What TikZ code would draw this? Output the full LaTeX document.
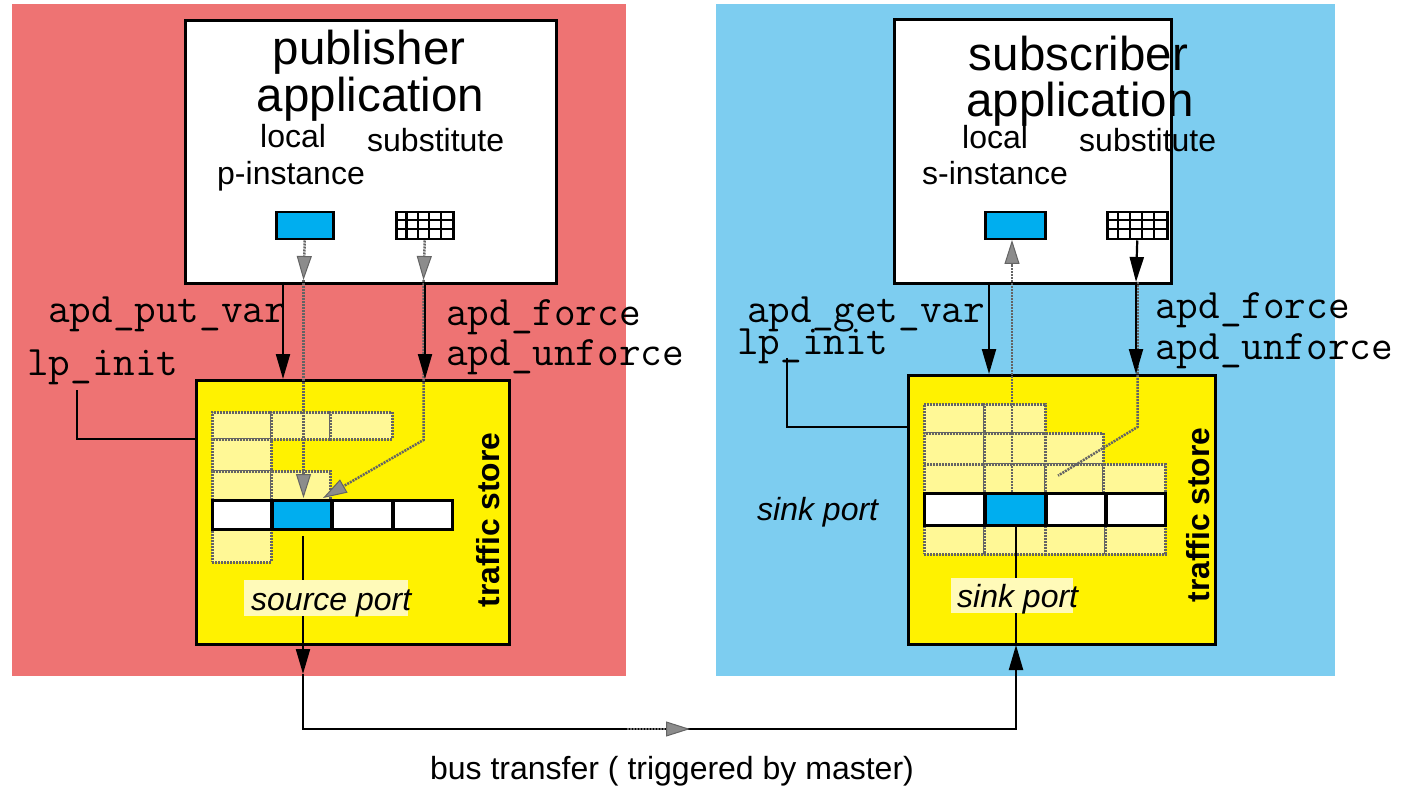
\documentclass[tikz,border=0pt]{standalone}
\usepackage{fontspec}
\setmainfont{Liberation Sans}
\usetikzlibrary{arrows.meta}
\definecolor{redbg}{RGB}{238,115,115}
\definecolor{bluebg}{RGB}{125,205,240}
\definecolor{tsyellow}{RGB}{255,242,0}
\definecolor{cellyellow}{RGB}{255,248,150}
\definecolor{lblyellow}{RGB}{255,250,185}
\definecolor{instblue}{RGB}{0,174,239}
\definecolor{dotgray}{RGB}{100,100,100}
\definecolor{tipgray}{RGB}{140,140,140}
\newcommand\rectnode[6]{\node[#2, minimum width={#5-#3}, minimum height={#6-#4}] (#1) at (#3,#4) {};}
\tikzset{
  panel/.style={draw=none, inner sep=0, anchor=north west},
  appbox/.style={draw=black, fill=white, line width=3pt, inner sep=0, anchor=north west},
  tsbox/.style={draw=black, fill=tsyellow, line width=3pt, inner sep=0, anchor=north west},
  gcell/.style={draw=dotgray, fill=cellyellow, line width=2.8pt, dash pattern=on 2pt off 1pt, inner sep=0, anchor=north west},
  pcell/.style={draw=black, fill=white, line width=3pt, inner sep=0, anchor=north west},
  bcell/.style={draw=black, fill=instblue, line width=3pt, inner sep=0, anchor=north west},
  instrect/.style={draw=black, fill=instblue, line width=2.5pt, inner sep=0, anchor=north west},
  subrect/.style={draw=black, fill=white, line width=2.5pt, inner sep=0, anchor=north west},
  lblbg/.style={draw=none, fill=lblyellow, inner sep=0, anchor=north west},
  conn/.style={draw=black, line width=2.2pt},
  dotline/.style={draw=dotgray, line width=2.5pt, dash pattern=on 2pt off 1pt},
  btip/.tip={Triangle[width=14pt,length=25pt]},
  gtip/.tip={Triangle[width=15pt,length=24pt,fill=tipgray,line width=1pt]},
  title/.style={inner sep=0, anchor=base, font=\fontsize{47.5}{50}\selectfont},
  sub/.style={inner sep=0, anchor=base west, font=\fontsize{32}{36}\selectfont},
  mono/.style={inner sep=0, anchor=base west, font=\ttfamily\fontsize{42}{44}\selectfont},
  ital/.style={inner sep=0, anchor=base west, font=\itshape\fontsize{32}{36}\selectfont},
  tstext/.style={inner sep=0, rotate=90, font=\bfseries\fontsize{31.8}{36}\selectfont},
}
\begin{document}
\begin{tikzpicture}[x=1pt,y=-1pt]
\useasboundingbox (0,0) rectangle (1405,786);
% panels
\rectnode{pubpanel}{panel, fill=redbg}{12}{4}{626}{676}
\rectnode{subpanel}{panel, fill=bluebg}{716}{4}{1335}{676}
% application boxes
\rectnode{pubbox}{appbox}{184}{19}{555}{282}
\rectnode{subbox}{appbox}{893}{18}{1170}{282}
% traffic stores
\rectnode{pubts}{tsbox}{195}{379}{508}{643}
\rectnode{subts}{tsbox}{907}{374}{1214}{643}
% instance rectangles
\rectnode{pubinst}{instrect}{275}{211}{332}{238}
\rectnode{pubsubst}{subrect}{395}{211}{452}{238}
\rectnode{subinst}{instrect}{984}{211}{1044}{238}
\rectnode{subsubst}{subrect}{1106}{211}{1166}{238}
\foreach \x in {406.4,417.8,429.2,440.6} \draw[line width=2.2pt] (\x,211) -- (\x,238);
\foreach \y in {220,229} \draw[line width=2.2pt] (395,\y) -- (452,\y);
\foreach \x in {1118,1130,1142,1154} \draw[line width=2.2pt] (\x,211) -- (\x,238);
\foreach \y in {220,229} \draw[line width=2.2pt] (1106,\y) -- (1166,\y);
% left cells
\rectnode{la1}{gcell}{211}{411}{270}{438}
\rectnode{la2}{gcell}{270}{411}{329}{438}
\rectnode{la3}{gcell}{329}{411}{391}{438}
\rectnode{lb1}{gcell}{211}{438}{270}{470}
\rectnode{lc1}{gcell}{211}{470}{270}{499}
\rectnode{lc2}{gcell}{270}{470}{329}{499}
\rectnode{le1}{gcell}{211}{528}{270}{561}
\rectnode{lp1}{pcell}{211}{499}{270}{528}
\rectnode{lp2}{bcell}{271}{499}{330}{528}
\rectnode{lp3}{pcell}{331}{499}{391}{528}
\rectnode{lp4}{pcell}{392}{499}{451}{528}
% right cells
\rectnode{ra1}{gcell}{923}{403}{983}{432}
\rectnode{ra2}{gcell}{983}{403}{1044}{432}
\rectnode{rb1}{gcell}{923}{432}{983}{463}
\rectnode{rb2}{gcell}{983}{432}{1044}{463}
\rectnode{rb3}{gcell}{1044}{432}{1102}{463}
\rectnode{rc1}{gcell}{923}{463}{983}{492}
\rectnode{rc2}{gcell}{983}{463}{1044}{492}
\rectnode{rc3}{gcell}{1044}{463}{1102}{492}
\rectnode{rc4}{gcell}{1102}{463}{1164}{492}
\rectnode{re1}{gcell}{923}{524}{983}{553}
\rectnode{re2}{gcell}{983}{524}{1044}{553}
\rectnode{re3}{gcell}{1044}{524}{1104}{553}
\rectnode{re4}{gcell}{1104}{524}{1164}{553}
\rectnode{rp1}{pcell}{923}{492}{983}{524}
\rectnode{rp2}{bcell}{984}{492}{1044}{524}
\rectnode{rp3}{pcell}{1045}{492}{1104}{524}
\rectnode{rp4}{pcell}{1105}{492}{1164}{524}
% coordinates
\coordinate (pinstmid) at (303.5,280);
\coordinate (pinstend) at (303.5,498);
\coordinate (psubmid) at (423.5,280);
\coordinate (pforcebend) at (423.5,440);
\coordinate (pforceend) at (323,498);
\coordinate (putA) at (283,282);
\coordinate (putB) at (283,379);
\coordinate (forceA) at (425,282);
\coordinate (forceB) at (425,379);
\coordinate (lpA) at (77,390);
\coordinate (lpB) at (77,439);
\coordinate (lpC) at (195,439);
\coordinate (srcA) at (303,536);
\coordinate (srcB) at (303,674);
\coordinate (busL) at (303,729);
\coordinate (busR) at (1016,729);
\coordinate (sinkB) at (1016,645);
\coordinate (sinkA) at (1016,524);
\coordinate (busg1) at (627,729);
\coordinate (busg2) at (690,729);
\coordinate (rupA) at (1012,492);
\coordinate (rupB) at (1012,240);
\coordinate (rsubmid) at (1136,282);
\coordinate (rforceB) at (1136,374);
\coordinate (getA) at (989,282);
\coordinate (getB) at (989,374);
\coordinate (rdotA) at (1137.5,282);
\coordinate (rdotbend) at (1137.5,427);
\coordinate (rdotend) at (1046,483);
\coordinate (rlpA) at (787,358);
\coordinate (rlpB) at (787,427);
\coordinate (rlpC) at (907,427);
% dotted connectors
\draw[dotline,-{gtip}] (pubinst.south) -- (pinstmid);
\draw[dotline,-{gtip}] (pinstmid) -- (pinstend);
\draw[dotline,-{gtip}] (pubsubst.south) -- (psubmid);
\draw[dotline,-{gtip}] (psubmid) -- (pforcebend) -- (pforceend);
\draw[dotline,-{gtip}] (rupA) -- (rupB);
\draw[dotline,-{Triangle[width=12pt,length=14pt,fill=cellyellow,color=cellyellow]}] (rdotA) -- (rdotbend) -- (rdotend);
% black connectors
\draw[conn,-{btip}] (putA) -- (putB);
\draw[conn,-{btip}] (forceA) -- (forceB);
\draw[conn] (lpA) -- (lpB) -- (lpC);
\draw[conn,-{btip}] (subsubst.south) -- (rsubmid);
\draw[conn,-{btip}] (rsubmid) -- (rforceB);
\draw[conn,-{btip}] (getA) -- (getB);
\draw[conn] (rlpA) -- (rlpB) -- (rlpC);
\draw[conn,-{btip}] (srcA) -- (srcB);
\draw[conn,-{btip}] (srcB) -- (busL) -- (busR) -- (sinkB);
\draw[conn] (sinkB) -- (sinkA);
\draw[dotline,-{gtip}] (busg1) -- (busg2);
% port labels
\rectnode{srcbg}{lblbg}{244}{580}{408}{616}
\rectnode{sinkbg}{lblbg}{951}{578}{1073}{613}
\node[ital] (srclbl) at (251,610) {source port};
\node[ital] (sinklbl) at (957,607) {sink port};
\node[ital] (sinklbl2) at (757,520) {sink port};
% traffic store labels
\node[tstext] (pubtslbl) at (488,520) {traffic store};
\node[tstext] (subtslbl) at (1198,515) {traffic store};
% application texts
\node[title] (pt1) at (369,65) {publisher};
\node[title] (pt2) at (370.5,112) {application};
\node[sub] (pt3) at (260,148) {local};
\node[sub] (pt4) at (217,185) {p-instance};
\node[sub] (pt5) at (367,152) {substitute};
\node[title] (st1) at (1078.5,71) {subscriber};
\node[title] (st2) at (1080,117) {application};
\node[sub] (st3) at (962,149) {local};
\node[sub] (st4) at (922,185) {s-instance};
\node[sub] (st5) at (1079,152) {substitute};
% API texts
\node[mono] (m1) at (48,323) {apd\_put\_var};
\node[mono] (m2) at (27,375) {lp\_init};
\node[mono] (m3) at (446,325) {apd\_force};
\node[mono] (m4) at (446,365) {apd\_unforce};
\node[mono] (m5) at (747,322) {apd\_get\_var};
\node[mono] (m6) at (737,354) {lp\_init};
\node[mono] (m7) at (1155,318) {apd\_force};
\node[mono] (m8) at (1155,359) {apd\_unforce};
% bus label
\node[inner sep=0, anchor=base, font=\fontsize{32}{36}\selectfont] (buslbl) at (672,779) {bus transfer ( triggered by master)};
\end{tikzpicture}
\end{document}
